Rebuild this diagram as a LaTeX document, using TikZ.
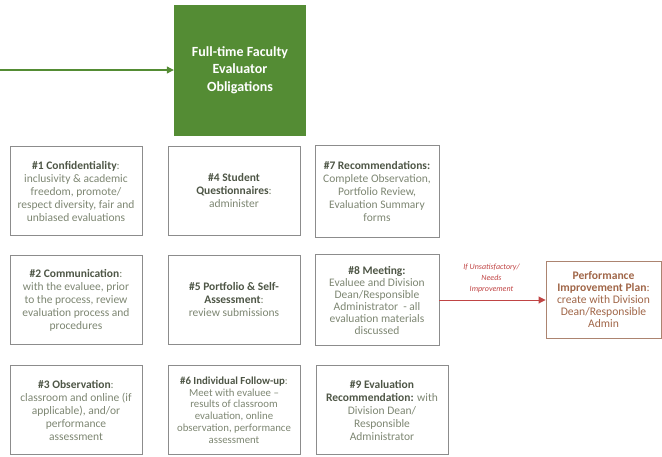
\documentclass[tikz,border=0pt]{standalone}
\usepackage{fontspec}
\setmainfont{Carlito}
\usepackage{xcolor}
\usepackage{tikz}
\usetikzlibrary{positioning}
\usetikzlibrary{arrows.meta}

\definecolor{leadgreen}{RGB}{84,140,52}
\definecolor{boxline}{RGB}{140,140,140}
\definecolor{headtext}{RGB}{78,86,70}
\definecolor{bodytext}{RGB}{125,134,114}
\definecolor{pipline}{RGB}{172,132,112}
\definecolor{piptext}{RGB}{160,102,72}
\definecolor{redarrow}{RGB}{192,68,68}

\newcommand{\dutyhead}[1]{\textcolor{headtext}{\textbf{#1}}}
\newcommand{\piphead}[1]{\textbf{#1}}

\begin{document}
\begin{tikzpicture}[x=1pt, y=-1pt,
duty/.style={draw=boxline, line width=0.9pt, align=center, inner sep=2pt,
  text=bodytext, font=\fontsize{11.5}{13}\selectfont,
  minimum width=132pt, minimum height=89pt},
narrowduty/.style={duty, minimum width=124pt},
leadbox/.style={fill=leadgreen, text=white, align=center,
  font=\fontsize{14}{17.5}\selectfont\bfseries,
  minimum width=132pt, minimum height=131pt},
pipbox/.style={draw=pipline, line width=0.9pt, align=center, inner sep=2pt,
  text=piptext, font=\fontsize{11.6}{12}\selectfont,
  minimum width=115pt, minimum height=77pt},
condlabel/.style={text=redarrow, align=center, inner sep=0pt,
  font=\fontsize{8}{11}\selectfont\itshape}
]

\useasboundingbox (0,0) rectangle (662,456);


\node[leadbox] (lead) at (240,70)
{Full-time Faculty\\Evaluator\\Obligations};

\coordinate (feed) at (0,70);

\draw[leadgreen, line width=1.1pt, -{Triangle[length=7pt,width=7pt]}] (feed)--(lead.west);


{
\node[duty] (conf) at (76,191)
{\dutyhead{\#1 Confidentiality}:\\inclusivity \& academic\\freedom, promote/\\respect diversity, fair and\\unbiased evaluations};

\node[duty] (quest) at (234,191)
{\dutyhead{\#4 Student}\\\dutyhead{Questionnaires}:\\administer};

\node[narrowduty, minimum height=92pt] (recom) at (377,191)
{\dutyhead{\#7 Recommendations:}\\Complete Observation,\\Portfolio Review,\\Evaluation Summary\\forms};
}

{
\node[duty] (comm) at (76,300)
{\dutyhead{\#2 Communication}:\\with the evaluee, prior\\to the process, review\\evaluation process and\\procedures};

\node[duty] (port) at (234,300)
{\dutyhead{\#5 Portfolio \& Self-}\\\dutyhead{Assessment}:\\review submissions};

\node[narrowduty, minimum height=91pt, font=\fontsize{11.5}{12}\selectfont] (meet) at (377,300)
{\dutyhead{\#8 Meeting:}\\Evaluee and Division\\Dean/Responsible\\Administrator\ \ - all\\evaluation materials\\discussed};
}

{
\node[duty] (obs) at (76,410)
{\dutyhead{\#3 Observation}:\\classroom and online (if\\applicable), and/or\\performance\\assessment};

\node[duty, font=\fontsize{10.8}{11.7}\selectfont] (follow) at (234,410)
{\dutyhead{\#6 Individual Follow-up}:\\Meet with evaluee –\\results of classroom\\evaluation, online\\observation, performance\\assessment};

\node[duty] (evalrec) at (382,410)
{\dutyhead{\#9 Evaluation}\\\dutyhead{Recommendation:} with\\Division Dean/\\Responsible\\Administrator};
}


\node[pipbox] (pip) at (603.5,300)
{\piphead{Performance}\\\piphead{Improvement Plan}:\\create with Division\\Dean/Responsible\\Admin};

\draw[redarrow, line width=0.9pt, -{Triangle[length=7pt,width=7pt]}] (meet.east)--(pip.west)
node[condlabel, midway, above=7pt, xshift=-1pt] (cond) {If Unsatisfactory/\\Needs\\Improvement};

\end{tikzpicture}
\end{document}
